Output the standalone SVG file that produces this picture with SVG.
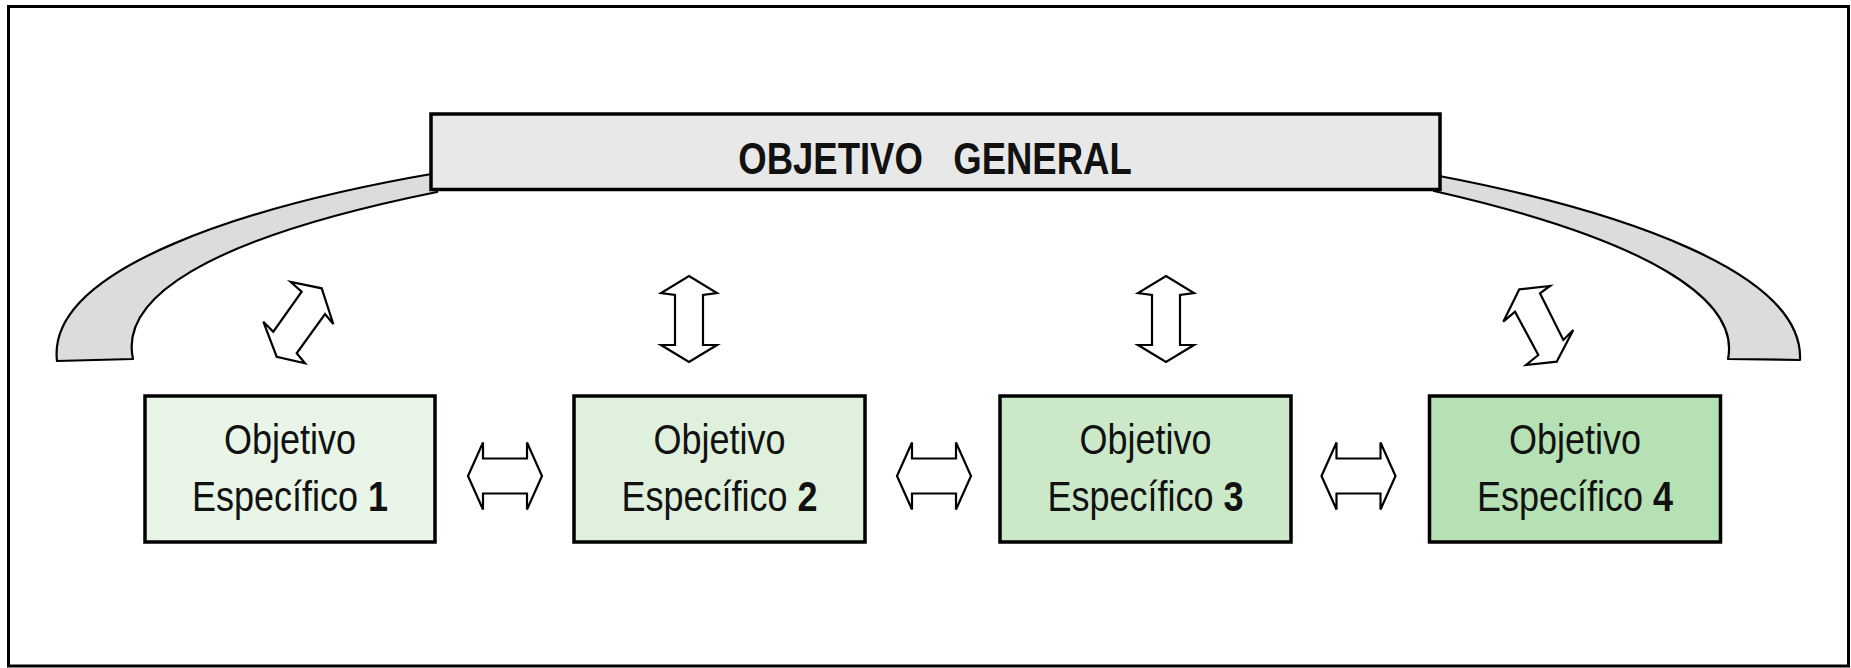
<svg xmlns="http://www.w3.org/2000/svg" width="1851" height="668" viewBox="0 0 1851 668">
  <style>
    .frame { fill: #ffffff; stroke: #000000; stroke-width: 3; }
    .arc { fill: #dcdcdc; stroke: #000000; stroke-width: 2.2; stroke-linejoin: round; }
    .general { fill: #e8e8e8; stroke: #000000; stroke-width: 3.5; }
    .spec { stroke: #000000; stroke-width: 3.5; }
    .arrow { fill: #ffffff; stroke: #000000; stroke-width: 2.2; stroke-linejoin: miter; }
    .t { font-family: "Liberation Sans", Arial, sans-serif; fill: #111111; }
    .tg { font-family: "Liberation Sans", Arial, sans-serif; font-weight: bold; font-size: 36.5px; fill: #111111; }
    .ts { font-size: 36px; }
  </style>
  <rect class="frame" x="8.5" y="6.5" width="1840" height="659.5"/>

  <g id="arcs">
    <path class="arc" d="M 437,173 C 250,205 46,268 57,361 L 133,359 C 120,300 200,240 437,192 Z"/>
    <path class="arc" d="M 1434,175 C 1620,210 1804,272 1800,360 L 1728,359 C 1740,300 1650,240 1434,191 Z"/>
  </g>

  <g id="objetivo-general">
    <rect class="general" x="431" y="114" width="1009" height="75.5"/>
    <text class="tg" text-anchor="middle" xml:space="preserve" transform="translate(935,174) scale(1,1.23)">OBJETIVO   GENERAL</text>
  </g>

  <g id="connectors">
    <!-- diagonal arrow left -->
    <polygon class="arrow" points="321.7,288.3 333.3,324 325,314 296.7,353.3 305,363.3 276.7,356.7 263.3,321.7 273.3,331.7 301.7,291.7 290.7,282"/>
    <!-- vertical arrow 2 -->
    <polygon class="arrow" points="689,276 717,293 703,295 703,345 717,345 689,362 661,345 675,345 675,295 661,293"/>
    <!-- vertical arrow 3 -->
    <polygon class="arrow" points="1166,276 1194,293 1180,295 1180,345 1194,345 1166,362 1138,345 1152,345 1152,295 1138,293"/>
    <!-- diagonal arrow right -->
    <polygon class="arrow" points="1519.3,289.3 1550,286 1540,293.3 1563.3,340 1573.3,330 1556.7,361.7 1526,365 1538.3,355 1515,311.7 1503.3,321.7"/>
    <!-- horizontal arrows -->
    <polygon class="arrow" points="468,476 483,442.5 483,458.5 527,458.5 527,442.5 542,476 527,509.5 527,493.5 483,493.5 483,509.5"/>
    <polygon class="arrow" points="897,476 912,442.5 912,458.5 956,458.5 956,442.5 971,476 956,509.5 956,493.5 912,493.5 912,509.5"/>
    <polygon class="arrow" points="1321.5,476 1336.5,442.5 1336.5,458.5 1380.5,458.5 1380.5,442.5 1395.5,476 1380.5,509.5 1380.5,493.5 1336.5,493.5 1336.5,509.5"/>
  </g>

  <g id="especifico-1">
    <rect class="spec" x="145" y="396" width="290" height="146" fill="#e8f5e7"/>
    <text class="t ts" text-anchor="middle" transform="translate(290,454) scale(1,1.2)">Objetivo</text>
    <text class="t ts" text-anchor="middle" transform="translate(290,510.5) scale(1,1.2)">Específico <tspan font-weight="bold">1</tspan></text>
  </g>
  <g id="especifico-2">
    <rect class="spec" x="574" y="396" width="291" height="146" fill="#dff1dc"/>
    <text class="t ts" text-anchor="middle" transform="translate(719.5,454) scale(1,1.2)">Objetivo</text>
    <text class="t ts" text-anchor="middle" transform="translate(719.5,510.5) scale(1,1.2)">Específico <tspan font-weight="bold">2</tspan></text>
  </g>
  <g id="especifico-3">
    <rect class="spec" x="1000" y="396" width="291" height="146" fill="#cbe9c9"/>
    <text class="t ts" text-anchor="middle" transform="translate(1145.5,454) scale(1,1.2)">Objetivo</text>
    <text class="t ts" text-anchor="middle" transform="translate(1145.5,510.5) scale(1,1.2)">Específico <tspan font-weight="bold">3</tspan></text>
  </g>
  <g id="especifico-4">
    <rect class="spec" x="1429.5" y="396" width="291" height="146" fill="#b6e1b4"/>
    <text class="t ts" text-anchor="middle" transform="translate(1575,454) scale(1,1.2)">Objetivo</text>
    <text class="t ts" text-anchor="middle" transform="translate(1575,510.5) scale(1,1.2)">Específico <tspan font-weight="bold">4</tspan></text>
  </g>
</svg>
